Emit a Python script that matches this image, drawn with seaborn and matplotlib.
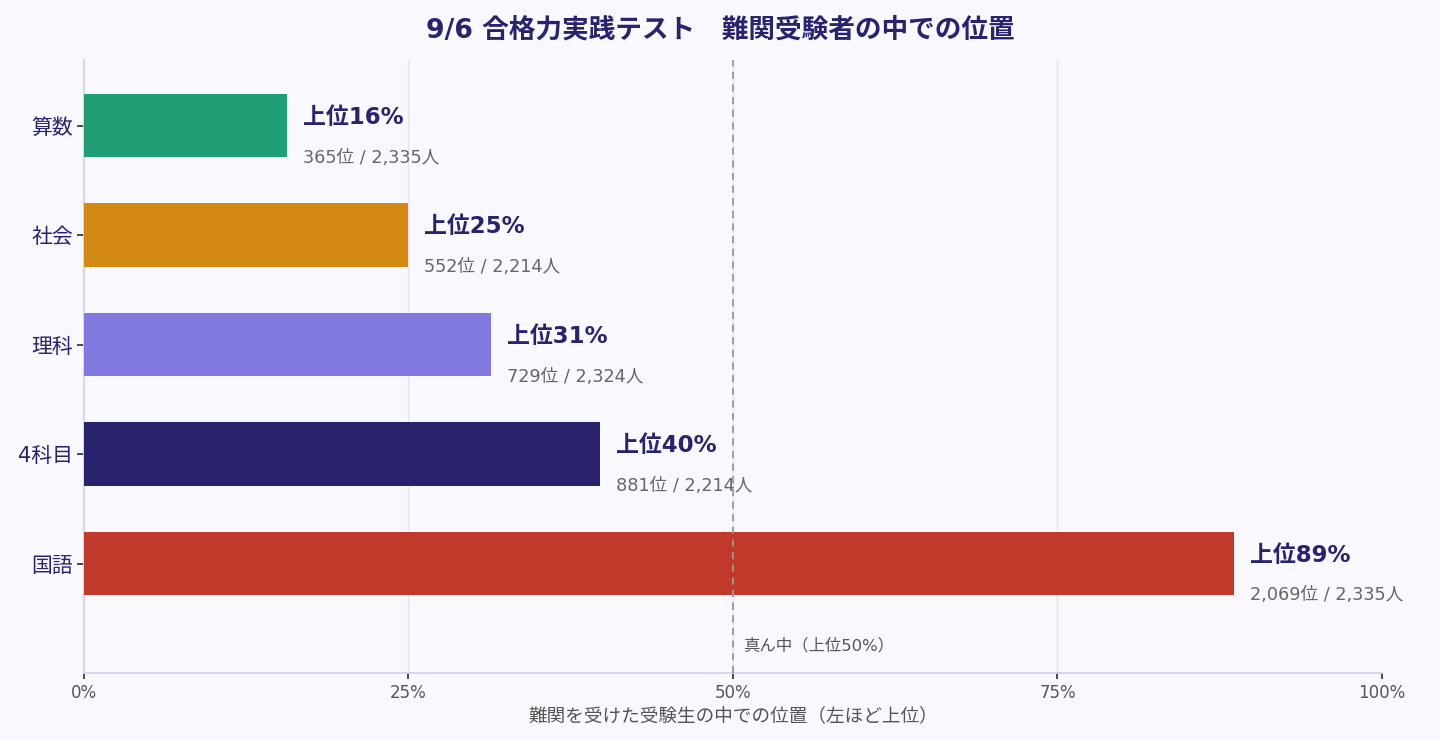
import matplotlib
matplotlib.use("Agg")
import matplotlib.pyplot as plt
import seaborn as sns
import pandas as pd
from matplotlib.ticker import FuncFormatter

subjects = ["算数", "社会", "理科", "4科目", "国語"]
ranks = [365, 552, 729, 881, 2069]
totals = [2335, 2214, 2324, 2214, 2335]
colors = ["#1f9e75", "#d38812", "#8179df", "#29236e", "#c0392b"]
xticks = [0, 25, 50, 75, 100]

pct = [r / t * 100 for r, t in zip(ranks, totals)]
df = pd.DataFrame({"subject": subjects, "pct": pct})

sns.set_theme(style="white")
plt.rcParams["font.family"] = ["DejaVu Sans", "Noto Sans CJK JP"]

BG = "#f8f8fe"
NAVY = "#29236e"
fig = plt.figure(figsize=(14.4, 7.4), dpi=100, facecolor=BG)
ax = fig.add_axes([0.0583, 0.0905, 0.9014, 0.8285])
ax.set_facecolor(BG)

sns.barplot(data=df, y="subject", x="pct", hue="subject", palette=colors,
            order=subjects, orient="h", width=0.58, legend=False, ax=ax,
            saturation=1, linewidth=0, zorder=3)

ax.set_xlim(0, 100)
ax.set_ylim(5.0, -0.6)
ax.set_xticks(xticks)
ax.xaxis.set_major_formatter(FuncFormatter(lambda v, p: f"{v:.0f}%"))
for xv in xticks[1:]:
    ax.axvline(xv, color="#e4e2f6" if xv < 100 else "#efeef8", lw=1, zorder=1)
ax.axvline(50, color="#999999", lw=1.3, ls=(0, (4, 3)), zorder=4)
ax.text(50.8, 4.75, "真ん中（上位50%）", color="#555555", fontsize=11.8,
        va="center", ha="left")

for i, (p, r, t) in enumerate(zip(pct, ranks, totals)):
    ax.annotate(f"上位{round(p):.0f}%", xy=(p, i), xytext=(11.5, 6),
                textcoords="offset points", ha="left", va="center",
                fontsize=16.5, fontweight="bold", color=NAVY)
    ax.annotate(f"{r:,}位 / {t:,}人", xy=(p, i), xytext=(11.5, -23),
                textcoords="offset points", ha="left", va="center",
                fontsize=12.7, color="#666666")

for s in ["top", "right"]:
    ax.spines[s].set_visible(False)
ax.spines["left"].set_color("#d2d0ee")
ax.spines["bottom"].set_color("#d2d0ee")
ax.tick_params(axis="y", left=True, length=5, color="#333333", labelsize=15,
               labelcolor=NAVY, pad=3)
ax.tick_params(axis="x", bottom=True, length=4, color="#333333", labelsize=12,
               labelcolor="#555555", pad=4)
ax.set_ylabel("")
ax.set_xlabel("難関を受けた受験生の中での位置（左ほど上位）", fontsize=13.4,
              color="#555555", labelpad=3)
fig.suptitle("9/6 合格力実践テスト　難関受験者の中での位置", fontsize=19.2,
             fontweight="bold", color=NAVY, y=0.977)

fig.savefig("out.png", dpi=100, facecolor=BG)
